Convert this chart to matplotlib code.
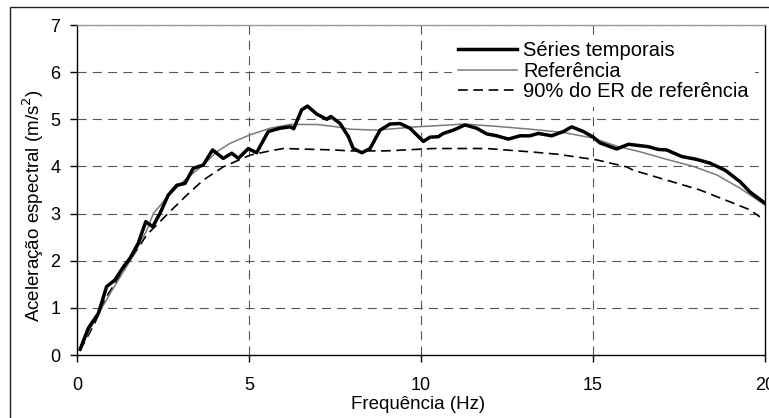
import matplotlib
matplotlib.use("Agg")
import matplotlib.pyplot as plt
from matplotlib.patches import Rectangle

plt.rcParams['font.family'] = ['Liberation Sans', 'DejaVu Sans']
plt.rcParams['lines.scale_dashes'] = False

# Séries temporais
freq_series = [0.09, 0.33, 0.62, 0.86, 1.1, 1.35, 1.54, 1.78, 2.0, 2.2, 2.41, 2.65, 2.9, 3.14,
               3.38, 3.67, 3.94, 4.25, 4.5, 4.69, 4.98, 5.22, 5.56, 5.9, 6.2, 6.3, 6.53, 6.7,
               6.97, 7.26, 7.38, 7.65, 7.89, 8.03, 8.28, 8.52, 8.81, 9.1, 9.39, 9.68, 10.07,
               10.26, 10.5, 10.65, 10.94, 11.28, 11.62, 11.91, 12.2, 12.54, 12.88, 13.17,
               13.41, 13.8, 14.14, 14.38, 14.72, 15.01, 15.2, 15.69, 16.03, 16.6, 16.9,
               17.14, 17.58, 18.01, 18.4, 18.84, 19.27, 19.56, 20.0]
acc_series = [0.12, 0.57, 0.88, 1.45, 1.59, 1.87, 2.05, 2.37, 2.83, 2.72, 3.0, 3.39, 3.6, 3.64,
              3.96, 4.03, 4.35, 4.17, 4.28, 4.17, 4.38, 4.29, 4.74, 4.81, 4.84, 4.8, 5.2, 5.28,
              5.11, 5.0, 5.06, 4.91, 4.63, 4.38, 4.29, 4.38, 4.77, 4.9, 4.91, 4.81, 4.53,
              4.62, 4.63, 4.7, 4.77, 4.88, 4.81, 4.69, 4.65, 4.58, 4.65, 4.65,
              4.7, 4.65, 4.74, 4.84, 4.74, 4.62, 4.5, 4.37, 4.47, 4.42, 4.36,
              4.35, 4.21, 4.15, 4.07, 3.92, 3.68, 3.46, 3.22]

# Referência
freq_ref = [0.09, 0.5, 1.0, 1.5, 2.0, 2.22, 2.68, 3.19, 3.67, 4.06, 4.45, 5.03, 5.61, 6.19,
            6.97, 7.55, 7.94, 8.71, 9.87, 10.84, 11.23, 12.2, 13.17, 14.14, 15.01, 15.69,
            16.37, 17.14, 17.92, 18.6, 19.27, 20.0]
acc_ref = [0.12, 0.72, 1.35, 1.95, 2.6, 3.0, 3.4, 3.75, 4.03, 4.31, 4.49, 4.67, 4.81, 4.89,
           4.89, 4.84, 4.79, 4.77, 4.84, 4.88, 4.9, 4.85, 4.79, 4.72, 4.6, 4.43,
           4.31, 4.15, 4.0, 3.82, 3.54, 3.18]

# 90% do ER de referência
freq_90 = [0.09, 0.5, 0.86, 1.35, 2.03, 2.7, 3.19, 3.67, 4.25, 5.03, 5.61, 6.0, 7.45, 7.94,
           9.0, 10.36, 11.91, 13.17, 13.95, 15.1, 15.98, 16.17, 17.14, 18.11, 19.08, 19.56, 19.85]
acc_90 = [0.1, 0.65, 1.24, 1.8, 2.55, 3.04, 3.39, 3.71, 3.99, 4.24, 4.33, 4.38, 4.35, 4.33,
          4.33, 4.38, 4.38, 4.31, 4.26, 4.14, 3.99, 3.92, 3.71, 3.5, 3.22, 3.08, 2.93]

labels = ['Séries temporais', 'Referência', '90% do ER de referência']
x_ticks = [0, 5, 10, 15, 20]
y_ticks = [0, 1, 2, 3, 4, 5, 6, 7]

W, H = 769, 418
fig = plt.figure(figsize=(W / 100, H / 100), dpi=100)
ax = fig.add_axes([77 / W, 1 - 355 / H, (765 - 77) / W, (355 - 25) / H])

# outer chart border
fig.patches.append(Rectangle((10 / W, -0.1), 1.2, 1.1 - 7 / H, transform=fig.transFigure,
                             fill=False, edgecolor='#222222', lw=1.0))

ax.set_xlim(0, 20)
ax.set_ylim(0, 7)
ax.set_xticks(x_ticks)
ax.set_yticks(y_ticks)

grid_kw = dict(color='#555555', lw=0.8, linestyle=(0, (6.5, 4.5)), zorder=1)
for yv in y_ticks[1:]:
    ax.axhline(yv, **grid_kw)
for xv in x_ticks[1:-1]:
    ax.axvline(xv, **grid_kw)

ax.plot(freq_90, acc_90, color='black', lw=1.2, linestyle=(0, (7, 4)), zorder=3,
        label=labels[2])
ax.plot(freq_ref, acc_ref, color='#7a7a7a', lw=1.1, zorder=4, label=labels[1])
ax.plot(freq_series, acc_series, color='black', lw=2.5, zorder=5, label=labels[0],
        solid_joinstyle='round')

for s in ['left', 'bottom', 'right']:
    ax.spines[s].set_color('black')
    ax.spines[s].set_linewidth(1.0)
ax.spines['top'].set_color('#999999')
ax.spines['top'].set_linewidth(1.0)

ax.tick_params(axis='both', direction='out', length=5, width=1.0, labelsize=13,
               colors='black')
ax.tick_params(axis='x', pad=11)
ax.tick_params(axis='y', pad=7)
ax.tick_params(axis='y', which='both', right=False)

ax.set_xlabel('Frequência (Hz)', fontsize=13.5)
ax.xaxis.set_label_coords((418.5 - 77) / 688, (355 - 396) / 330)
ax.set_ylabel('Aceleração espectral (m/s$^2$)', fontsize=13.5, va='center')
ax.yaxis.set_label_coords((33 - 77) / 688, (355 - 206) / 330)

handles, labs = ax.get_legend_handles_labels()
order = [2, 1, 0]
leg = ax.legend([handles[i] for i in order], [labs[i] for i in order],
                loc='upper left', bbox_to_anchor=(452 / W, 1 - 35 / H),
                bbox_transform=fig.transFigure, frameon=True, fancybox=False,
                facecolor='white', edgecolor='none', framealpha=1.0, fontsize=14.5,
                borderpad=0.3, borderaxespad=0, handlelength=2.95, handletextpad=0.3,
                labelspacing=0.08)
leg.set_zorder(6)

fig.savefig('out.png', dpi=100)
